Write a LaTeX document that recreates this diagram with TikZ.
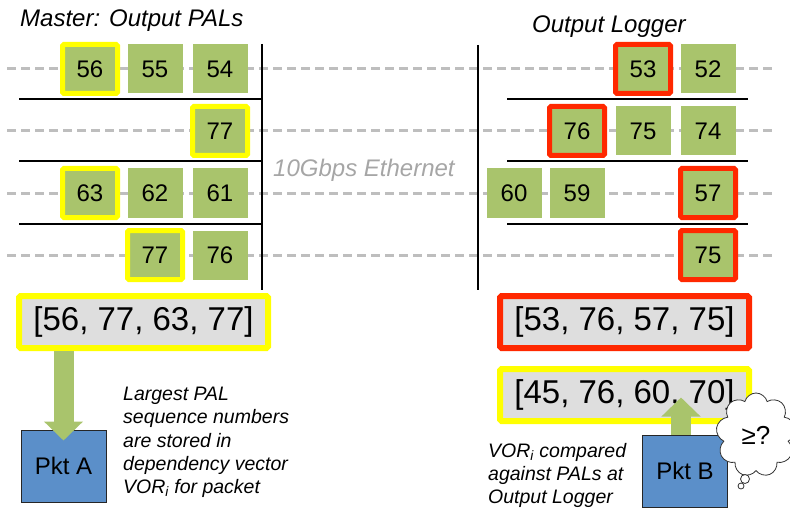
\documentclass[tikz,border=0pt]{standalone}
\usepackage{fontspec}
\setmainfont{Liberation Sans}
\usetikzlibrary{arrows.meta,shapes.symbols}

\definecolor{palgreen}{RGB}{169,196,108}
\definecolor{markyellow}{RGB}{255,255,0}
\definecolor{markred}{RGB}{255,40,0}
\definecolor{vecgray}{RGB}{222,222,222}
\definecolor{pktblue}{RGB}{91,143,201}
\definecolor{wiregray}{RGB}{190,190,190}

\begin{document}
\begin{tikzpicture}[x=1pt,y=-1pt,
  pal/.style={fill=palgreen,minimum width=55pt,minimum height=49pt,inner sep=0pt,font=\fontsize{24}{28}\selectfont},
  palY/.style={pal,draw=markyellow,line width=5pt,rounded corners=1.5pt},
  palR/.style={pal,draw=markred,line width=5pt,rounded corners=1.5pt},
  vec/.style={fill=vecgray,line width=6pt,rounded corners=1.5pt,minimum width=249pt,minimum height=52pt,inner sep=0pt,font=\fontsize{33}{38}\selectfont},
  pkt/.style={fill=pktblue,draw=black!85,line width=1pt,minimum width=85pt,minimum height=72pt,font=\fontsize{24}{28}\selectfont},
  heading/.style={anchor=base west,inner sep=0pt,font=\itshape\fontsize{24}{28}\selectfont},
  note/.style={anchor=north west,align=left,inner sep=0pt,font=\itshape\fontsize{19.5}{23.3}\selectfont},
  wire/.style={wiregray,line width=3pt,dash pattern=on 9pt off 5pt},
  bar/.style={line width=2pt},
  fatarrow/.style={palgreen,line width=20pt,-{Triangle[width=38pt,length=19pt]}}
]
  \useasboundingbox (0,0) rectangle (790,508);

  \foreach \y in {69,131,193,255}
    \draw[wire] (7,\y) -- (772,\y);

  \draw[bar] (262,44) -- (262,290);
  \foreach \y in {99,161,224}
    \draw[bar] (19,\y) -- (262,\y);
  \draw[bar] (478,45) -- (478,290);
  \foreach \y in {99,161,224}
    \draw[bar] (507,\y) -- (748,\y);

  \node[heading] (mtitle) at (20,27) {Master: Output PALs};
  \node[heading] (ltitle) at (532,33) {Output Logger};
  \node[heading,text=black!35] (eth) at (273,176) {10Gbps Ethernet};

  \node[palY] (m56) at (90,69) {56};
  \node[pal]  (m55) at (155,69) {55};
  \node[pal]  (m54) at (220,69) {54};
  \node[palY] (m77a) at (220,131) {77};
  \node[palY] (m63) at (90,193) {63};
  \node[pal]  (m62) at (155,193) {62};
  \node[pal]  (m61) at (220,193) {61};
  \node[palY] (m77b) at (155,255) {77};
  \node[pal]  (m76) at (220,255) {76};

  \node[palR] (l53) at (643,69) {53};
  \node[pal]  (l52) at (708,69) {52};
  \node[palR] (l76) at (577,131) {76};
  \node[pal]  (l75a) at (643,131) {75};
  \node[pal]  (l74) at (708,131) {74};
  \node[pal]  (l60) at (514,193) {60};
  \node[pal]  (l59) at (577,193) {59};
  \node[palR] (l57) at (708,193) {57};
  \node[palR] (l75b) at (708,255) {75};

  \node[vec,draw=markyellow] (vecA) at (143.5,322) {[56, 77, 63, 77]};
  \node[vec,draw=markred] (vecL) at (624.5,322) {[53, 76, 57, 75]};
  \node[vec,draw=markyellow] (vecB) at (624.5,395) {[45, 76, 60, 70]};

  \node[pkt] (pktA) at (63.5,466) {Pkt A};
  \node[pkt] (pktB) at (685,471) {Pkt B};

  \draw[fatarrow] (pktA.north |- vecA.south) -- ([yshift=-11pt]pktA.north);
  \draw[fatarrow] ([xshift=-4pt]pktB.north) -- ([xshift=-4pt,yshift=37pt]pktB.north);

  \node[note] (noteA) at (123,387) {Largest PAL\\sequence numbers\\are stored in\\dependency vector\\VOR\textsubscript{i} for packet};
  \node[note] (noteB) at (488,443) {VOR\textsubscript{i} compared\\against PALs at\\Output Logger};

  \node[cloud,cloud puffs=9,cloud ignores aspect,draw=black!80,fill=white,line width=0.8pt,minimum width=80pt,minimum height=84pt,inner sep=0pt,font=\fontsize{26}{30}\selectfont] (think) at (756,435) {≥?};
  \draw[black!80,line width=0.8pt,fill=white] (745,479) circle (4.5pt);
  \draw[black!80,line width=0.8pt,fill=white] (741,486) circle (3pt);
\end{tikzpicture}
\end{document}
